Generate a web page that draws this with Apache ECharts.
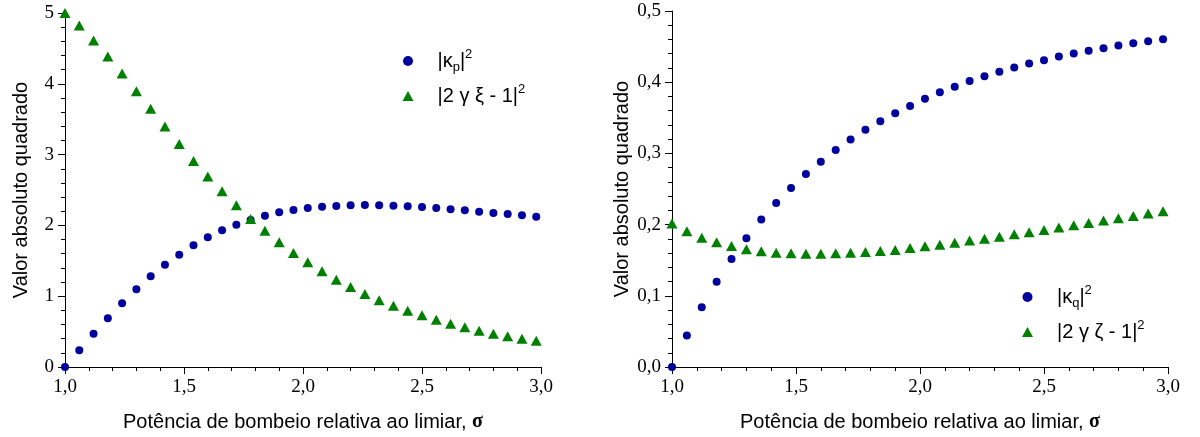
<!DOCTYPE html>
<html><head><meta charset="utf-8">
<script src="https://cdn.jsdelivr.net/npm/echarts@6/dist/echarts.min.js"></script>
<style>html,body{margin:0;padding:0;background:#fff}#c{width:1200px;height:437px}</style>
</head><body><div id="c"></div>
<script>
// sigma values (x)
const sigma = [1.00,1.06,1.12,1.18,1.24,1.30,1.36,1.42,1.48,1.54,1.60,1.66,1.72,1.78,1.84,1.90,1.96,2.02,2.08,2.14,2.20,2.26,2.32,2.38,2.44,2.50,2.56,2.62,2.68,2.74,2.80,2.86,2.92,2.98];
// left panel
const kappaP2 = [0,0.235,0.471,0.687,0.899,1.097,1.281,1.445,1.587,1.718,1.831,1.930,2.010,2.076,2.137,2.185,2.218,2.246,2.265,2.274,2.283,2.288,2.283,2.279,2.269,2.260,2.246,2.227,2.213,2.194,2.175,2.161,2.142,2.123];
const gammaXi2 = [5.0,4.825,4.613,4.387,4.146,3.896,3.646,3.396,3.151,2.910,2.689,2.481,2.283,2.090,1.926,1.761,1.610,1.478,1.351,1.234,1.130,1.031,0.942,0.866,0.796,0.730,0.669,0.612,0.560,0.513,0.471,0.433,0.400,0.372];
// right panel
const kappaQ2 = [0,0.0441,0.084,0.1197,0.1516,0.1808,0.207,0.2305,0.2515,0.2711,0.2884,0.3047,0.3196,0.3331,0.3452,0.3564,0.3667,0.3769,0.3858,0.3937,0.4016,0.4082,0.4147,0.4207,0.4263,0.431,0.4361,0.4403,0.4441,0.4478,0.4515,0.4548,0.4576,0.4604];
const gammaZeta2 = [0.2014,0.1906,0.1817,0.1751,0.1700,0.1653,0.1624,0.1606,0.1596,0.1592,0.1592,0.1596,0.1606,0.1615,0.1629,0.1643,0.1671,0.1695,0.1718,0.1746,0.1775,0.1803,0.1831,0.1864,0.1892,0.1925,0.1958,0.1991,0.2023,0.2056,0.2089,0.2122,0.2155,0.2188];

const xTitle = 'Potência de bombeio relativa ao limiar, ';
const yTitle = 'Valor absoluto quadrado';
const legendLabels = {
  kp: '{f||κ}{sub|p}{m||}{sup|2}',
  g1: '{f||2 γ ξ - 1|}{sup|2}',
  kq: '{f||κ}{sub|q}{m||}{sup|2}',
  g2: '{f||2 γ ζ - 1|}{sup|2}'
};

const BLUE = '#00009C', GREEN = '#008000';
const sans = 'Liberation Sans, Arial, sans-serif';
const serif = 'Liberation Serif, Times New Roman, serif';
const comma = d => v => v.toFixed(d).replace('.', ',');
const pairs = ys => sigma.map((x, i) => [x, ys[i]]);

const richLegend = {
  f: {fontSize: 20, fontFamily: sans, color: '#000', lineHeight: 26, padding: [0,0,0,19]},
  m: {fontSize: 20, fontFamily: sans, color: '#000', lineHeight: 26},
  sub: {fontSize: 13, fontFamily: sans, color: '#000', lineHeight: 12, verticalAlign: 'bottom'},
  sup: {fontSize: 13, fontFamily: sans, color: '#000', lineHeight: 12, verticalAlign: 'top'}
};

function xAxis(gi) {
  return {
    type: 'value', gridIndex: gi, min: 1, max: 3, interval: 0.5,
    name: '{t|' + xTitle + '}{s|σ}', nameLocation: 'middle', nameGap: 45,
    nameTextStyle: {rich: {t: {fontSize: 20, fontFamily: sans, color: '#000'}, s: {fontSize: 20, fontFamily: serif, fontWeight: 'bold', color: '#000'}}},
    axisLine: {onZero: false, lineStyle: {color: '#000', width: 1}},
    axisTick: {length: 7, lineStyle: {color: '#000'}},
    minorTick: {show: true, splitNumber: 5, length: 4, lineStyle: {color: '#000'}},
    splitLine: {show: false},
    axisLabel: {formatter: comma(1), fontFamily: serif, fontSize: 19, color: '#000', margin: 11}
  };
}
function yAxis(gi, max, interval, dec, gap) {
  return {
    type: 'value', gridIndex: gi, min: 0, max: max, interval: interval,
    name: yTitle, nameLocation: 'middle', nameGap: gap,
    nameTextStyle: {fontSize: 20, fontFamily: sans, color: '#000'},
    axisLine: {show: true, onZero: false, lineStyle: {color: '#000', width: 1}},
    axisTick: {show: true, length: 7, lineStyle: {color: '#000'}},
    minorTick: {show: true, splitNumber: 5, length: 4, lineStyle: {color: '#000'}},
    splitLine: {show: false},
    axisLabel: {formatter: comma(dec), fontFamily: serif, fontSize: 19, color: '#000', margin: 11}
  };
}
function sc(name, gi, ys, color, tri) {
  return {
    name: name, type: 'scatter', xAxisIndex: gi, yAxisIndex: gi,
    data: pairs(ys), symbol: tri ? 'triangle' : 'circle',
    symbolSize: tri ? [11, 10] : 8,
    itemStyle: {color: color, opacity: 1}, emphasis: {disabled: true}, z: tri ? 3 : 2
  };
}

const chart = echarts.init(document.getElementById('c'), null, {renderer: 'canvas'});
chart.setOption({
  animation: false,
  backgroundColor: '#fff',
  grid: [
    {left: 65, right: 659, top: 13, bottom: 70},
    {left: 672, right: 32, top: 11, bottom: 70}
  ],
  xAxis: [xAxis(0), xAxis(1)],
  yAxis: [yAxis(0, 5, 1, 0, 34), yAxis(1, 0.5, 0.1, 1, 40)],
  legend: [
    {data: [{name: 'kp', icon: 'circle'}, {name: 'g1', icon: 'triangle'}], orient: 'vertical', left: 402.5, top: 48, padding: 0,
     itemWidth: 11, itemHeight: 10, itemGap: 9, formatter: n => legendLabels[n], textStyle: {rich: richLegend}, selectedMode: false},
    {data: [{name: 'kq', icon: 'circle'}, {name: 'g2', icon: 'triangle'}], orient: 'vertical', left: 1022, top: 284, padding: 0,
     itemWidth: 11, itemHeight: 10, itemGap: 9, formatter: n => legendLabels[n], textStyle: {rich: richLegend}, selectedMode: false}
  ],
  series: [
    sc('kp', 0, kappaP2, BLUE, false),
    sc('g1', 0, gammaXi2, GREEN, true),
    sc('kq', 1, kappaQ2, BLUE, false),
    sc('g2', 1, gammaZeta2, GREEN, true)
  ]
});
</script></body></html>
